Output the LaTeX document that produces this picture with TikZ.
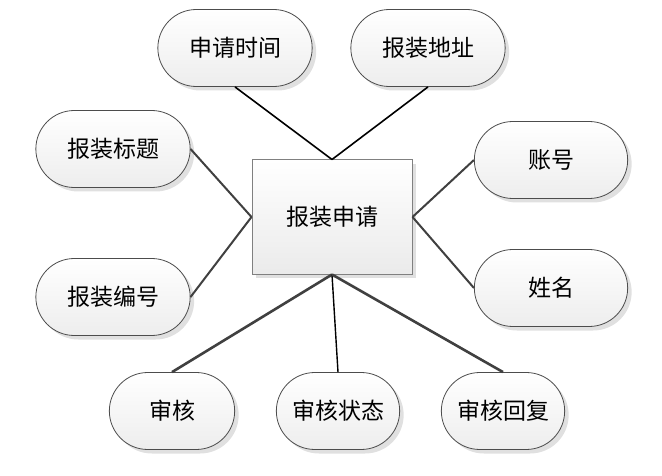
\documentclass[tikz,border=0pt]{standalone}
\usepackage{fontspec}
\usepackage{tikz}
\usetikzlibrary{shapes.misc, shadows, positioning}
\newfontfamily\cjk{Noto Sans CJK SC}
\tikzstyle{link} = [line width=2pt, draw=black!75]

\begin{document}
\begin{tikzpicture}[
    x=1pt, y=-1pt,
    attr/.style={rounded rectangle, draw=black!70, line width=0.8pt, top color=white, bottom color=black!7, minimum width=161pt, minimum height=77pt, font=\cjk\fontsize{23}{26}\selectfont, drop shadow={shadow xshift=4pt, shadow yshift=-4pt, fill=black!12, opacity=1}},
    entity/.style={rectangle, draw=black!50, line width=1pt, top color=white, bottom color=black!8, minimum width=160pt, minimum height=114pt, font=\cjk\fontsize{23}{26}\selectfont, drop shadow={shadow xshift=4pt, shadow yshift=-4pt, fill=black!12, opacity=1}}
]
    \useasboundingbox (0,0) rectangle (662,476);
    \node[entity] (apply) at (332,217) {报装申请};

    \node[attr] (time) at (235,48) {申请时间};
    \node[attr] (addr) at (428,48) {报装地址};
    \node[attr] (title) at (113,149) {报装标题};
    \node[attr] (code) at (113,297) {报装编号};
    \node[attr, minimum width=160pt] (account) at (551,160) {账号};
    \node[attr, minimum width=160pt] (name) at (551,288) {姓名};
    \node[attr, minimum width=132pt] (audit) at (172,411) {审核};
    \node[attr, minimum width=130pt] (state) at (338,411) {审核状态};
    \node[attr, minimum width=130pt] (reply) at (503,411) {审核回复};

    \draw[link, line width=1.6pt, draw=black] (time.south) -- (apply.north);
    \draw[link, line width=1.6pt, draw=black] (addr.south) -- (apply.north);
    \draw[link] (title.east) -- (apply.west);
    \draw[link] (code.east) -- (apply.west);
    \draw[link] (account.west) -- (apply.east);
    \draw[link] (name.west) -- (apply.east);
    \draw[link, line width=2.6pt] (apply.south) -- (audit.north);
    \draw[link, line width=1.4pt, draw=black] (apply.south) -- (state.north);
    \draw[link, line width=2.6pt] (apply.south) -- (reply.north);
\end{tikzpicture}
\end{document}
